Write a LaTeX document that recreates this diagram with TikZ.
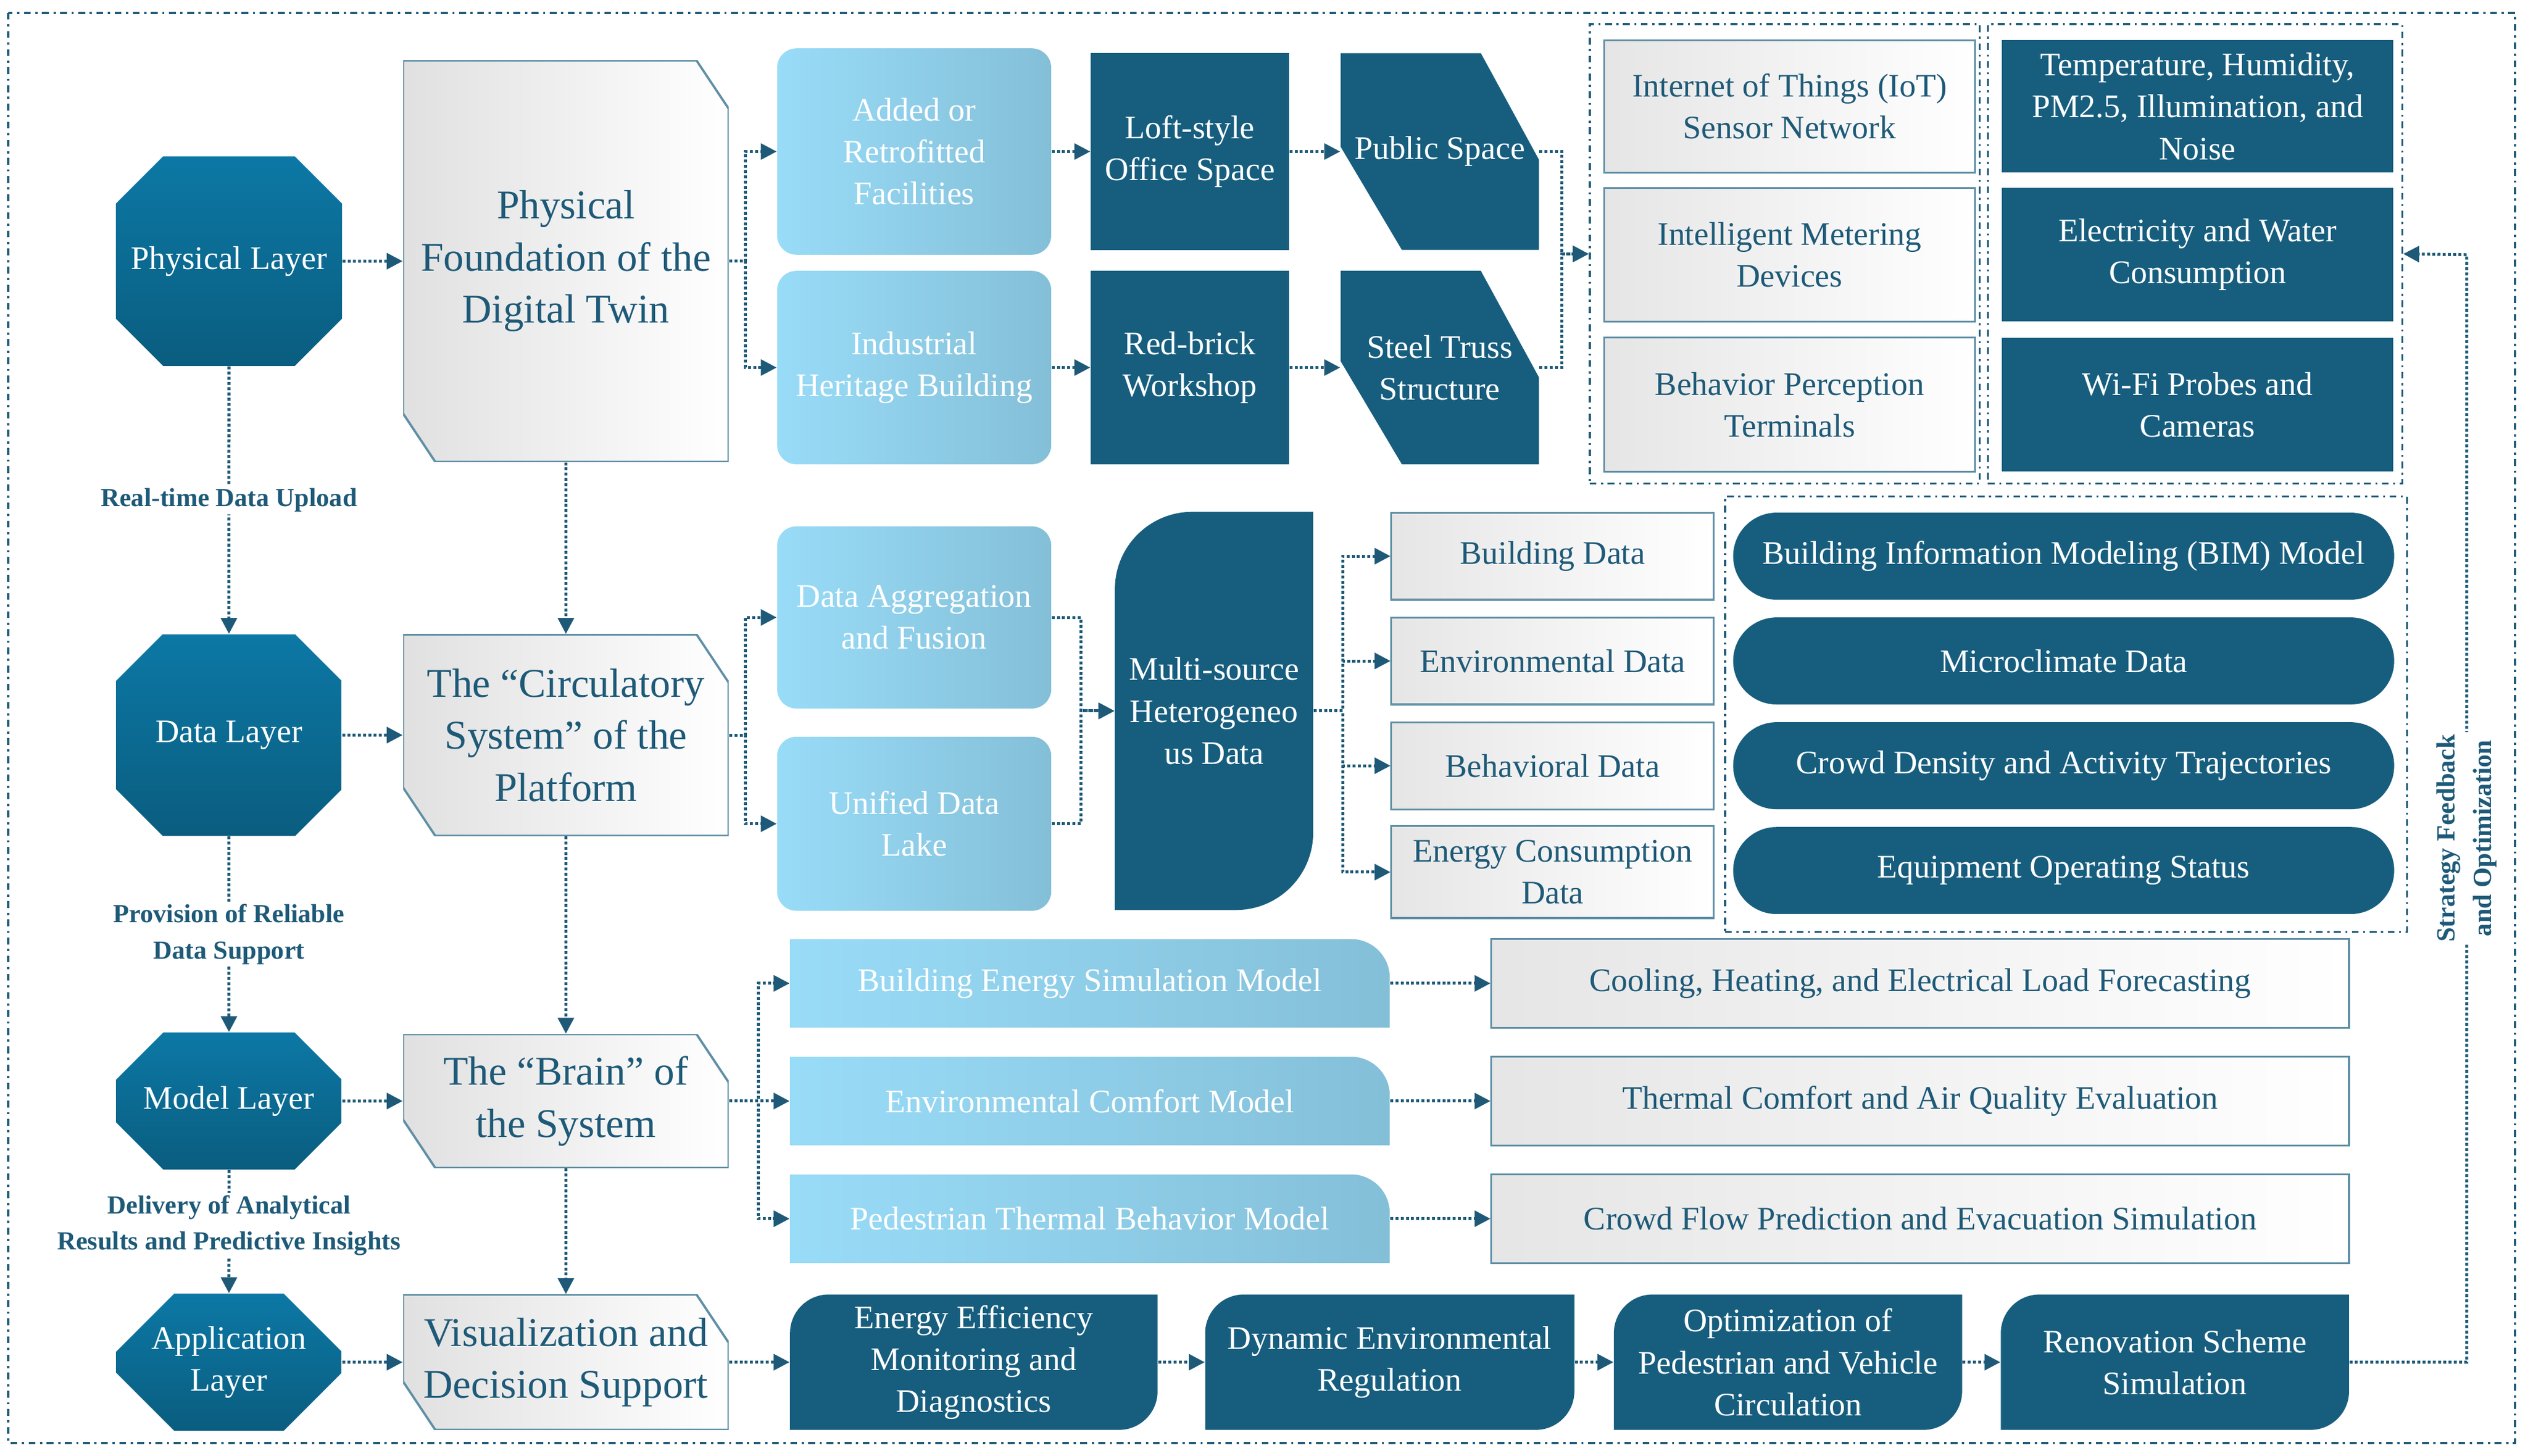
\documentclass[tikz,border=0pt]{standalone}
\usepackage{fontspec}
\setmainfont{Liberation Serif}
\usetikzlibrary{arrows.meta,calc,shapes.misc}

\definecolor{dkb}{HTML}{175E7E}
\definecolor{laytop}{HTML}{0C78A5}
\definecolor{laybot}{HTML}{0A5D7F}
\definecolor{lbone}{HTML}{99DCF8}
\definecolor{lbtwo}{HTML}{84BFD8}
\definecolor{arr}{HTML}{1E5A78}
\definecolor{edge}{HTML}{5F8FA6}

\newcommand{\midfont}{\fontsize{14.5}{18.5}\selectfont}
\newcommand{\bigfont}{\fontsize{18}{23}\selectfont}
\newcommand{\lblfont}{\fontsize{11.5}{16}\selectfont\bfseries}
\newcommand{\ppcorners}{%
  \coordinate (nw) at (path picture bounding box.north west);
  \coordinate (ne) at (path picture bounding box.north east);
  \coordinate (se) at (path picture bounding box.south east);
  \coordinate (sw) at (path picture bounding box.south west);}

\tikzset{
  sz/.style 2 args={minimum width=#1*0.25mm, minimum height=#2*0.25mm},
  base/.style={inner sep=0pt, align=center, font=\midfont},
  layer/.style={base, chamfered rectangle, chamfered rectangle xsep=4mm,
    chamfered rectangle ysep=5mm, top color=laytop, bottom color=laybot, text=white},
  found/.style={base, font=\bigfont, text=arr, path picture={\ppcorners
    \path[left color=black!12, right color=white, draw=edge, line width=1pt]
      (nw) -- ($(ne)+(-5mm,0)$) -- ($(ne)+(0,-7.5mm)$) -- (se)
      -- ($(sw)+(5mm,0)$) -- ($(sw)+(0,7.5mm)$) -- cycle;}},
  lbox/.style={base, rounded corners=3mm, left color=lbone, right color=lbtwo, text=white},
  dbox/.style={base, fill=dkb, text=white},
  dcut/.style={base, text=white, path picture={\ppcorners
    \fill[dkb] (nw) -- ($(ne)+(-9mm,0)$) -- ($(ne)+(0,-16.5mm)$) -- (se)
      -- ($(sw)+(9.5mm,0)$) -- ($(sw)+(0,16mm)$) -- cycle;}},
  wbox/.style={base, left color=black!10, right color=white, draw=edge, line width=0.8pt, text=arr},
  pill/.style={base, rounded rectangle, fill=dkb, text=white},
  mbox/.style={base, text=white, path picture={\ppcorners
    \shade[left color=lbone, right color=lbtwo] (nw) -- ($(ne)+(-6mm,0)$)
      arc[start angle=90, end angle=0, radius=6mm] -- (se) -- (sw) -- cycle;}},
  abox/.style={base, text=white, path picture={\ppcorners
    \fill[dkb] (sw) -- ($(nw)+(0,-#1)$) arc[start angle=180, end angle=90, radius=#1]
      -- (ne) -- ($(se)+(0,#1)$) arc[start angle=0, end angle=-90, radius=#1] -- cycle;}},
  abox/.default=6mm,
  grp/.style={draw=arr, line width=0.9pt, dash dot, inner sep=0pt},
  flow/.style={arr, line width=1.3pt, densely dotted, -{Triangle[length=7pt, width=7pt]}},
  lbl/.style={font=\lblfont, text=arr, fill=white, align=center, inner sep=1pt}
}

\begin{document}
\begin{tikzpicture}[x=0.25mm, y=-0.25mm]
\useasboundingbox (0,0) rectangle (1568,903);
\draw[arr, line width=1pt, dash dot] (5,8) rectangle (1560,895);

% layers
\node[layer, sz={140}{130}] (phys) at (142,162) {Physical Layer};
\node[layer, sz={140}{125}] (data) at (142,456) {Data Layer};
\node[layer, sz={140}{85}] (model) at (142,683) {Model Layer};
\node[layer, sz={140}{85}] (appl) at (142,845) {Application\\Layer};

\node[found, sz={202}{249}] (found) at (351,162) {Physical\\Foundation of the\\Digital Twin};
\node[found, sz={202}{125}] (circ) at (351,456) {The ``Circulatory\\System'' of the\\Platform};
\node[found, sz={202}{83}] (brain) at (351,683) {The ``Brain'' of\\the System};
\node[found, sz={202}{84}] (visual) at (351,845) {Visualization and\\Decision Support};

% physical row
\node[lbox, sz={170}{128}] (added) at (567,94) {Added or\\Retrofitted\\Facilities};
\node[lbox, sz={170}{120}] (herit) at (567,228) {Industrial\\Heritage Building};
\node[dbox, sz={123}{122}] (loft) at (738,94) {Loft-style\\Office Space};
\node[dbox, sz={123}{120}] (brick) at (738,228) {Red-brick\\Workshop};
\node[dcut, sz={123}{122}] (public) at (893,94) {Public Space};
\node[dcut, sz={123}{120}] (truss) at (893,228) {Steel Truss\\Structure};

\node[grp, sz={242}{285}] (sensgrp) at (1107,157.5) {};
\node[wbox, sz={230}{82}] (iot) at (1110,66) {Internet of Things (IoT)\\Sensor Network};
\node[wbox, sz={230}{83}] (meter) at (1110,158) {Intelligent Metering\\Devices};
\node[wbox, sz={230}{83}] (percep) at (1110,251) {Behavior Perception\\Terminals};

\node[grp, sz={257}{285}] (measgrp) at (1361.5,157.5) {};
\node[dbox, sz={243}{82}] (temp) at (1363,66) {Temperature, Humidity,\\PM2.5, Illumination, and\\Noise};
\node[dbox, sz={243}{83}] (elec) at (1363,158) {Electricity and Water\\Consumption};
\node[dbox, sz={243}{83}] (wifi) at (1363,251) {Wi-Fi Probes and\\Cameras};

% data row
\node[lbox, sz={170}{113}] (aggr) at (567,383) {Data Aggregation\\and Fusion};
\node[lbox, sz={170}{108}] (lake) at (567,511) {Unified Data\\Lake};
\node[abox=12mm, sz={123}{247}] (multi) at (753,441) {Multi-source\\Heterogeneo\\us Data};
\node[wbox, sz={200}{54}] (bdata) at (963,345) {Building Data};
\node[wbox, sz={200}{54}] (edata) at (963,410) {Environmental Data};
\node[wbox, sz={200}{54}] (hdata) at (963,475) {Behavioral Data};
\node[wbox, sz={200}{57}] (cdata) at (963,541) {Energy Consumption\\Data};

\node[grp, sz={423}{270}] (srcgrp) at (1281.5,443) {};
\node[pill, sz={410}{54}] (bim) at (1280,345) {Building Information Modeling (BIM) Model};
\node[pill, sz={410}{54}] (micro) at (1280,410) {Microclimate Data};
\node[pill, sz={410}{54}] (crowd) at (1280,475) {Crowd Density and Activity Trajectories};
\node[pill, sz={410}{54}] (equip) at (1280,540) {Equipment Operating Status};

% model row
\node[mbox, sz={372}{55}] (bes) at (676,610) {Building Energy Simulation Model};
\node[mbox, sz={372}{55}] (ecm) at (676,683) {Environmental Comfort Model};
\node[mbox, sz={372}{55}] (ptb) at (676,756) {Pedestrian Thermal Behavior Model};
\node[wbox, sz={532}{55}] (load) at (1191,610) {Cooling, Heating, and Electrical Load Forecasting};
\node[wbox, sz={532}{55}] (comfort) at (1191,683) {Thermal Comfort and Air Quality Evaluation};
\node[wbox, sz={532}{55}] (evac) at (1191,756) {Crowd Flow Prediction and Evacuation Simulation};

% application row
\node[abox, sz={228}{84}] (energy) at (604,845) {Energy Efficiency\\Monitoring and\\Diagnostics};
\node[abox, sz={229}{84}] (dynreg) at (862,845) {Dynamic Environmental\\Regulation};
\node[abox, sz={216}{84}] (circul) at (1109,845) {Optimization of\\Pedestrian and Vehicle\\Circulation};
\node[abox, sz={216}{84}] (renov) at (1349,845) {Renovation Scheme\\Simulation};

\coordinate (fback) at (1530,158);

% connectors
\draw[flow] (phys) -- (found);
\draw[flow] (data) -- (circ);
\draw[flow] (model) -- (brain);
\draw[flow] (appl) -- (visual);
\draw[flow] (phys) -- node[lbl] {Real-time Data Upload} (data);
\draw[flow] (data) -- node[lbl] {Provision of Reliable\\Data Support} (model);
\draw[flow] (model) -- node[lbl, pos=0.45] {Delivery of Analytical\\Results and Predictive Insights} (appl);
\draw[flow] (found) -- (circ);
\draw[flow] (circ) -- (brain);
\draw[flow] (brain) -- (visual);

\foreach \dst in {added,herit}
  \draw[flow] (found.east) -- ++(10,0) |- (\dst.west);
\draw[flow] (added) -- (loft);
\draw[flow] (loft) -- (public);
\draw[flow] (herit) -- (brick);
\draw[flow] (brick) -- (truss);
\foreach \src in {public,truss}
  \draw[flow] (\src.east) -- ++(14,0) |- (sensgrp.west);

\foreach \dst in {aggr,lake}
  \draw[flow] (circ.east) -- ++(10,0) |- (\dst.west);
\foreach \src in {aggr,lake}
  \draw[flow] (\src.east) -- ++(18,0) |- (multi.west);
\foreach \dst in {bdata,edata,hdata,cdata}
  \draw[flow] (multi.east) -- ++(18,0) |- (\dst.west);

\foreach \dst in {bes,ecm,ptb}
  \draw[flow] (brain.east) -- ++(18,0) |- (\dst.west);
\draw[flow] (bes) -- (load);
\draw[flow] (ecm) -- (comfort);
\draw[flow] (ptb) -- (evac);

\draw[flow] (visual) -- (energy);
\draw[flow] (energy) -- (dynreg);
\draw[flow] (dynreg) -- (circul);
\draw[flow] (circul) -- (renov);
\draw[flow] (renov.east) -| (fback) -- (measgrp.east);
\node[lbl, rotate=90] (fblbl) at (1530,520) {Strategy Feedback\\and Optimization};
\end{tikzpicture}
\end{document}
